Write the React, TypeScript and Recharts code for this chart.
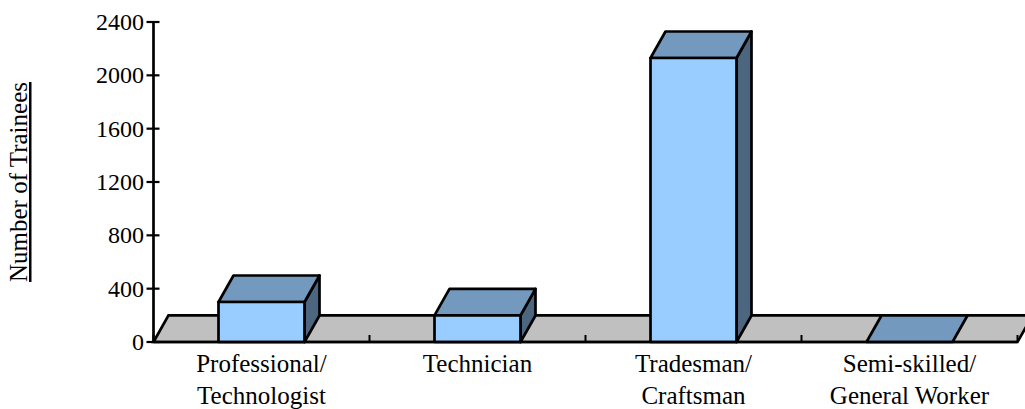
import { Bar, BarChart, ReferenceArea, XAxis, YAxis } from 'recharts';

const categories = ['Professional/|Technologist', 'Technician', 'Tradesman/|Craftsman', 'Semi-skilled/|General Worker'];
const trainees = [300, 200, 2130, 0];
const yTicks = [0, 400, 800, 1200, 1600, 2000, 2400];
const floorDepth = 200;

const data = categories.map((name, i) => ({ name, trainees: trainees[i] }));

const FONT = '"Liberation Serif", "Times New Roman", serif';
const DX = 15;
const DY = 26.5;
const LINE = 2.7;
const AXIS_X = 153.5;
const AXIS_Y = 342;

function Floor({ x, y, width, height }: any) {
	const pts = `${x},${y + height} ${x + DX},${y} ${x + width + DX},${y} ${x + width},${y + height}`;
	return <polygon points={pts} fill="#c0c0c0" stroke="#000" strokeWidth={LINE} />;
}

function Box({ x, y, width, height }: any) {
	const r = x + width;
	const b = y + height;
	const top = `${x},${y} ${x + DX},${y - DY} ${r + DX},${y - DY} ${r},${y}`;
	const side = `${r},${y} ${r + DX},${y - DY} ${r + DX},${b - DY} ${r},${b}`;
	return (
		<g stroke="#000" strokeWidth={LINE} strokeLinejoin="round">
			{height > 0 && <polygon points={side} fill="#4d6680" />}
			<polygon points={top} fill="#7399bf" />
			{height > 0 && <rect x={x} y={y} width={width} height={height} fill="#99ccff" />}
		</g>
	);
}

function CategoryTick({ x, y, payload, index }: any) {
	const half = payload.offset;
	const lines = String(payload.value).split('|');
	return (
		<g>
			<line x1={x - half} x2={x - half} y1={AXIS_Y} y2={AXIS_Y - 7} stroke="#000" strokeWidth={2} />
			{index === categories.length - 1 && (
				<line x1={x + half} x2={x + half} y1={AXIS_Y} y2={AXIS_Y - 7} stroke="#000" strokeWidth={2} />
			)}
			<text x={x} y={y} textAnchor="middle" fontFamily={FONT} fontSize={25} fill="#000">
				{lines.map((line, i) => (
					<tspan key={line} x={x} y={AXIS_Y + 29.5 + i * 32}>
						{line}
					</tspan>
				))}
			</text>
		</g>
	);
}

// y ticks straddle the axis line, so the library's tickLine can't be used
function ValueTick({ y, payload }: any) {
	return (
		<g>
			<line x1={AXIS_X - 7} x2={AXIS_X + 6} y1={y} y2={y} stroke="#000" strokeWidth={2.2} />
			<text x={AXIS_X - 9.5} y={y + 8} textAnchor="end" fontFamily={FONT} fontSize={24} fill="#000">
				{payload.value}
			</text>
		</g>
	);
}

function AxisTitle() {
	return (
		<text
			transform="translate(27 182) rotate(-90)"
			textAnchor="middle"
			fontFamily={FONT}
			fontSize={25}
			textDecoration="underline"
			fill="#000"
		>
			Number of Trainees
		</text>
	);
}

export default function App() {
	return (
		<div style={{ width: 1025, height: 409, overflow: 'hidden', background: '#fff' }}>
			<style>{'body { margin: 0; }'}</style>
			<BarChart
				width={1025}
				height={409}
				data={data}
				margin={{ top: 22, right: 7.5, bottom: 0, left: 0 }}
				barSize={86}
			>
				<ReferenceArea y1={0} y2={floorDepth} shape={Floor} ifOverflow="visible" />
				<XAxis
					dataKey="name"
					height={67}
					interval={0}
					tickLine={false}
					axisLine={{ stroke: '#000', strokeWidth: LINE }}
					tick={<CategoryTick />}
				/>
				<YAxis
					width={AXIS_X}
					domain={[0, 2400]}
					ticks={yTicks}
					interval={0}
					tickLine={false}
					axisLine={{ stroke: '#000', strokeWidth: LINE }}
					tick={<ValueTick />}
					label={{ content: <AxisTitle /> }}
				/>
				<Bar dataKey="trainees" shape={<Box />} isAnimationActive={false} />
			</BarChart>
		</div>
	);
}
